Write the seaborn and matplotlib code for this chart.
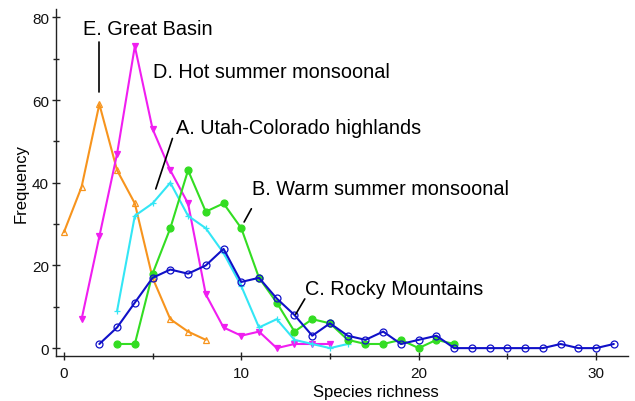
import pandas as pd
import numpy as np
import seaborn as sns
import matplotlib.pyplot as plt

sns.set_style("white")
plt.rcParams["font.family"] = ["Liberation Sans", "DejaVu Sans"]
plt.rcParams["text.color"] = "black"

# species richness vs frequency, one list per region
great_basin_x = [0, 1, 2, 3, 4, 5, 6, 7, 8]
great_basin_y = [28, 39, 59, 43, 35, 17, 7, 4, 2]

hot_summer_x = [1, 2, 3, 4, 5, 6, 7, 8, 9, 10, 11, 12, 13, 14, 15]
hot_summer_y = [7, 27, 47, 73, 53, 43, 35, 13, 5, 3, 4, 0, 1, 1, 1]

utah_x = [3, 4, 5, 6, 7, 8, 9, 10, 11, 12, 13, 14, 15, 16]
utah_y = [9, 32, 35, 40, 32, 29, 23, 15, 5, 7, 2, 1, 0, 1]

warm_summer_x = [3, 4, 5, 6, 7, 8, 9, 10, 11, 12, 13, 14, 15, 16, 17, 18, 19, 20, 21, 22]
warm_summer_y = [1, 1, 18, 29, 43, 33, 35, 29, 17, 11, 4, 7, 6, 2, 1, 1, 2, 0, 2, 1]

rocky_x = list(range(2, 32))
rocky_y = [1, 5, 11, 17, 19, 18, 20, 24, 16, 17, 12, 8, 3, 6, 3, 2, 4, 1, 2, 3,
           0, 0, 0, 0, 0, 0, 1, 0, 0, 1]

fig, ax = plt.subplots(figsize=(6.35, 4.02), dpi=100)
fig.subplots_adjust(left=0.088, right=0.989, bottom=0.112, top=0.975)

series = [
    (great_basin_x, great_basin_y, "#f7941d", "^", "none", 4.5),
    (hot_summer_x, hot_summer_y, "#f01ef0", "v", "#f01ef0", 4.5),
    (utah_x, utah_y, "#33e6f5", "+", "#33e6f5", 4.5),
    (warm_summer_x, warm_summer_y, "#33dd22", "o", "#33dd22", 5),
    (rocky_x, rocky_y, "#1010c8", "o", "none", 5),
]
for xs, ys, col, mk, fc, ms in series:
    df = pd.DataFrame({"x": xs, "y": ys})
    sns.lineplot(data=df, x="x", y="y", ax=ax, color=col, linewidth=1.5,
                 marker=mk, markersize=ms, markerfacecolor=fc,
                 markeredgecolor=col, markeredgewidth=0.9)

# labels with leader lines
fs = 14.3
ax.text(1.1, 77.3, "E. Great Basin", fontsize=fs, va="center")
ax.plot([2, 2], [74, 62], color="black", lw=1.2)
ax.text(5.0, 67, "D. Hot summer monsoonal", fontsize=fs, va="center")
ax.text(6.3, 53.3, "A. Utah-Colorado highlands", fontsize=fs, va="center")
ax.plot([6.12, 5.18], [50.7, 38.5], color="black", lw=1.2)
ax.text(10.6, 38.5, "B. Warm summer monsoonal", fontsize=fs, va="center")
ax.plot([10.57, 10.16], [33.7, 30.5], color="black", lw=1.2)
ax.text(13.6, 14.5, "C. Rocky Mountains", fontsize=fs, va="center")
ax.plot([13.58, 13.07], [11.9, 8.2], color="black", lw=1.2)

ax.set_xlim(-0.45, 31.8)
ax.set_ylim(-1.9, 82)
ax.set_xticks([0, 10, 20, 30])
ax.set_xticks([5, 15, 25], minor=True)
ax.set_yticks([0, 20, 40, 60, 80])
ax.set_yticks([10, 30, 50, 70], minor=True)
ax.tick_params(which="both", bottom=True, left=True, direction="inout",
               length=6, width=1, labelsize=11, colors="#222222", pad=2)
ax.tick_params(which="minor", length=5)
ax.tick_params(axis="x", labelcolor="#111111", pad=4)
ax.tick_params(axis="y", labelcolor="#111111")
ax.set_xlabel("Species richness", fontsize=12, color="black")
ax.set_ylabel("Frequency", fontsize=12, color="black")
ax.xaxis.set_label_coords(0.56, -0.081)
ax.yaxis.set_label_coords(-0.048, 0.5)
sns.despine(ax=ax)
for s in ["left", "bottom"]:
    ax.spines[s].set_color("#222222")
    ax.spines[s].set_linewidth(1)

plt.savefig("out.png", dpi=100)
plt.close()
